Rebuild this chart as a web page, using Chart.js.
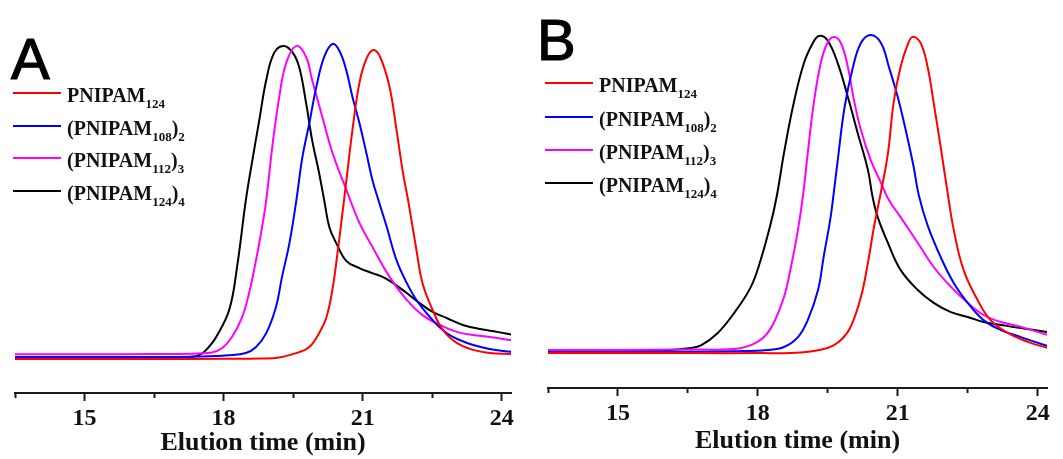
<!DOCTYPE html>
<html><head><meta charset="utf-8">
<script src="https://cdn.jsdelivr.net/npm/chart.js@4.4.0/dist/chart.umd.min.js"></script>
<style>
body{margin:0;background:#fff;width:1063px;height:459px;position:relative;overflow:hidden;font-family:'Liberation Serif',serif}
canvas{position:absolute;top:0}
.lbl{position:absolute;font-family:'Liberation Sans',Arial,sans-serif;font-size:58px;line-height:58px;color:#000;-webkit-text-stroke:1.2px #000}
.leg{position:absolute;font:bold 20px 'Liberation Serif',serif;line-height:24px;white-space:nowrap;color:#111}
.leg .s{font-size:13px;position:relative;top:6px}
.sw{position:absolute;height:2px;width:48px}
</style></head><body>
<canvas id="cA" width="530" height="459" style="left:0"></canvas>
<canvas id="cB" width="533" height="459" style="left:530px"></canvas>
<div class="lbl" style="left:11px;top:30px">A</div>
<div class="lbl" style="left:537px;top:11px">B</div>
<div id="legA"></div><div id="legB"></div>
<script>
// ---- data (elution time in min, normalized RI intensity) ----
const MAJOR_TICKS = [15, 18, 21, 24];
const SERIES_COLORS = ['#ff0000', '#0000ff', '#ff00ff', '#000000'];

// Panel A
const A_RED_T = [13.5, 15.0, 16.5, 18.0, 18.8, 19.2, 19.63, 19.85, 20.06, 20.22, 20.35, 20.45, 20.56, 20.65, 20.78, 20.93, 21.08, 21.23, 21.38, 21.58, 21.73, 21.87, 21.98, 22.16, 22.29, 22.51, 22.73, 23.03, 23.38, 23.74, 24.2];
const A_RED_I = [0.3, 0.3, 0.3, 0.4, 0.5, 0.8, 2.5, 4.1, 8.5, 13.6, 22.5, 33.0, 46.0, 57.0, 72.8, 87.7, 95.3, 98.1, 95.8, 86.4, 72.8, 59.2, 50.6, 34.8, 24.4, 15.8, 9.5, 5.4, 3.2, 2.2, 1.9];
const A_BLUE_T = [13.5, 15.0, 16.5, 17.5, 18.1, 18.48, 18.70, 18.92, 19.13, 19.26, 19.42, 19.57, 19.70, 19.85, 20.00, 20.17, 20.35, 20.50, 20.65, 20.78, 20.93, 21.08, 21.21, 21.34, 21.52, 21.73, 21.95, 22.16, 22.45, 22.81, 23.25, 23.74, 24.2];
const A_BLUE_I = [0.9, 0.9, 0.9, 1.1, 1.5, 2.2, 4.1, 8.5, 16.8, 26.3, 37.0, 50.6, 64.2, 75.0, 86.4, 95.9, 100, 97.8, 91.5, 83.2, 75.0, 65.5, 57.0, 50.6, 42.1, 31.6, 24.4, 19.0, 13.6, 8.5, 5.4, 3.5, 2.6];
const A_MAG_T = [13.5, 15.0, 16.5, 17.3, 17.75, 17.97, 18.18, 18.40, 18.55, 18.70, 18.83, 18.92, 19.05, 19.20, 19.35, 19.57, 19.78, 19.91, 20.13, 20.35, 20.65, 20.93, 21.21, 21.58, 21.95, 22.29, 22.66, 23.03, 23.38, 23.74, 24.2];
const A_MAG_I = [1.8, 1.8, 1.9, 2.0, 2.4, 3.8, 7.3, 13.6, 21.2, 31.6, 42.1, 50.6, 67.4, 83.2, 94.0, 99.4, 95.9, 88.6, 76.9, 65.5, 53.8, 43.4, 35.8, 26.3, 19.0, 14.2, 11.1, 8.9, 7.9, 7.3, 6.3];
const A_BLACK_T = [13.5, 15.0, 16.5, 17.0, 17.40, 17.55, 17.68, 17.84, 18.12, 18.29, 18.48, 18.61, 18.77, 18.92, 19.09, 19.29, 19.48, 19.63, 19.78, 19.91, 20.06, 20.17, 20.28, 20.43, 20.65, 20.93, 21.21, 21.43, 21.65, 21.95, 22.23, 22.51, 22.81, 23.16, 23.53, 23.90, 24.2];
const A_BLACK_I = [0.9, 0.9, 0.9, 0.9, 1.2, 2.2, 4.1, 7.3, 15.8, 29.4, 50.6, 62.3, 75.9, 88.6, 97.2, 99.4, 97.5, 92.7, 81.3, 69.6, 59.2, 50.6, 42.1, 37.0, 31.3, 29.1, 27.5, 26.3, 24.4, 21.2, 18.0, 15.2, 13.3, 11.1, 9.8, 8.9, 8.1];

// Panel B
const B_RED_T = [13.5, 15.0, 16.5, 18.0, 18.92, 19.49, 19.78, 19.99, 20.21, 20.36, 20.49, 20.64, 20.79, 20.91, 21.06, 21.21, 21.32, 21.49, 21.64, 21.77, 21.92, 22.07, 22.20, 22.41, 22.71, 22.99, 23.36, 23.79, 24.21];
const B_RED_I = [0.6, 0.6, 0.6, 0.6, 0.8, 2.2, 4.7, 8.8, 18.1, 28.8, 40.0, 51.0, 63.1, 78.8, 90.0, 96.9, 99.4, 97.5, 90.0, 78.8, 65.0, 50.6, 39.1, 26.6, 17.2, 10.9, 6.9, 4.1, 2.2];
const B_BLUE_T = [13.5, 15.0, 16.5, 17.5, 18.21, 18.56, 18.86, 19.07, 19.29, 19.41, 19.56, 19.63, 19.71, 19.86, 20.04, 20.21, 20.42, 20.64, 20.81, 21.00, 21.17, 21.34, 21.45, 21.64, 21.92, 22.20, 22.50, 22.84, 23.21, 23.64, 24.21];
const B_BLUE_I = [0.9, 0.9, 1.0, 1.2, 1.6, 2.5, 5.6, 10.9, 20.3, 30.6, 43.1, 51.0, 60.5, 77.5, 90.0, 97.5, 100, 97.5, 90.0, 80.6, 70.3, 58.8, 50.0, 40.5, 30.6, 22.5, 16.3, 10.9, 7.8, 5.6, 2.8];
const B_MAG_T = [13.5, 15.0, 16.5, 17.49, 17.85, 18.13, 18.34, 18.56, 18.71, 18.86, 18.97, 19.07, 19.20, 19.35, 19.49, 19.63, 19.78, 19.93, 20.06, 20.21, 20.42, 20.64, 20.81, 21.06, 21.43, 21.77, 22.14, 22.50, 22.84, 23.21, 23.64, 24.21];
const B_MAG_I = [1.6, 1.6, 1.7, 1.9, 3.1, 5.6, 10.0, 18.1, 27.5, 39.1, 50.0, 63.1, 78.8, 91.3, 97.5, 99.4, 97.5, 90.0, 79.7, 70.3, 60.9, 53.8, 48.4, 43.1, 35.0, 27.5, 21.3, 16.3, 12.5, 10.3, 8.8, 6.3];
const B_BLACK_T = [13.5, 15.0, 16.0, 16.56, 16.78, 17.14, 17.49, 17.85, 18.06, 18.28, 18.41, 18.56, 18.77, 18.99, 19.18, 19.31, 19.49, 19.71, 19.93, 20.14, 20.36, 20.46, 20.57, 20.79, 21.06, 21.43, 21.77, 22.14, 22.50, 22.84, 23.21, 23.64, 24.21];
const B_BLACK_I = [1.3, 1.3, 1.5, 2.2, 3.0, 6.9, 13.1, 21.3, 29.7, 41.3, 50.0, 63.1, 78.8, 91.3, 97.5, 99.7, 98.4, 91.3, 80.6, 69.4, 57.8, 49.4, 43.1, 35.0, 26.6, 20.3, 16.3, 13.4, 11.9, 10.3, 9.4, 8.4, 7.2];

// Legend labels: [main, subscript, main, subscript]
const LEGEND_LABELS = [
  ['PNIPAM', '124', '', ''],
  ['(PNIPAM', '108', ')', '2'],
  ['(PNIPAM', '112', ')', '3'],
  ['(PNIPAM', '124', ')', '4']
];

function ds(T, I, color) {
  return { data: T.map((t, i) => ({ x: t, y: I[i] })), borderColor: color, borderWidth: 2,
    pointRadius: 0, fill: false, tension: 0.4 };
}

function makePanel(id, sets, yMin, yMax, pad, axisH, tickPad, titlePadB) {
  new Chart(document.getElementById(id), {
    type: 'line',
    data: { datasets: sets },
    options: {
      responsive: false, animation: false, devicePixelRatio: 1, events: [],
      layout: { padding: pad },
      plugins: { legend: { display: false }, tooltip: { enabled: false } },
      scales: {
        x: {
          type: 'linear', min: 13.5, max: 24.2,
          afterFit: (s) => { s.height = axisH; },
          border: { display: true, color: '#1a1a1a', width: 2 },
          grid: { drawOnChartArea: false, tickLength: 8, tickWidth: 2, tickColor: '#1a1a1a',
            tickBorderDash: (c) => (c.tick && MAJOR_TICKS.includes(c.tick.value)) ? [] : [4, 100] },
          ticks: { stepSize: 1.5, includeBounds: false, autoSkip: false, maxRotation: 0, padding: tickPad,
            color: '#111', font: { family: 'Liberation Serif', weight: 'bold', size: 24 },
            callback: (v) => MAJOR_TICKS.includes(v) ? String(v) : '' },
          title: { display: true, text: 'Elution time (min)', color: '#111',
            font: { family: 'Liberation Serif', weight: 'bold', size: 26 }, padding: { top: 0, bottom: titlePadB } }
        },
        y: { display: false, min: yMin, max: yMax }
      }
    }
  });
}

makePanel('cA', [
  ds(A_RED_T, A_RED_I, SERIES_COLORS[0]), ds(A_BLUE_T, A_BLUE_I, SERIES_COLORS[1]),
  ds(A_MAG_T, A_MAG_I, SERIES_COLORS[2]), ds(A_BLACK_T, A_BLACK_I, SERIES_COLORS[3])
], -10.44, 110.76, { left: 15, right: 19, top: 10, bottom: 0 }, 66, 3, 0);

makePanel('cB', [
  ds(B_RED_T, B_RED_I, SERIES_COLORS[0]), ds(B_BLUE_T, B_BLUE_I, SERIES_COLORS[1]),
  ds(B_MAG_T, B_MAG_I, SERIES_COLORS[2]), ds(B_BLACK_T, B_BLACK_I, SERIES_COLORS[3])
], -10.31, 107.8, { left: 18, right: 16, top: 10, bottom: 0 }, 71, 3, 2);

function legend(el, x, ys) {
  const box = document.getElementById(el);
  LEGEND_LABELS.forEach((p, i) => {
    const sw = document.createElement('div');
    sw.className = 'sw'; sw.style.left = x + 'px'; sw.style.top = (ys[i] - 1) + 'px';
    sw.style.background = SERIES_COLORS[i];
    box.appendChild(sw);
    const t = document.createElement('div');
    t.className = 'leg'; t.style.left = (x + 54) + 'px'; t.style.top = (ys[i] - 10) + 'px';
    t.innerHTML = p[0] + '<span class="s">' + p[1] + '</span>' + p[2] + (p[3] ? '<span class="s">' + p[3] + '</span>' : '');
    box.appendChild(t);
  });
}
legend('legA', 13, [93, 126, 158, 191]);
legend('legB', 545, [83, 117, 150, 183]);
</script>
</body></html>
